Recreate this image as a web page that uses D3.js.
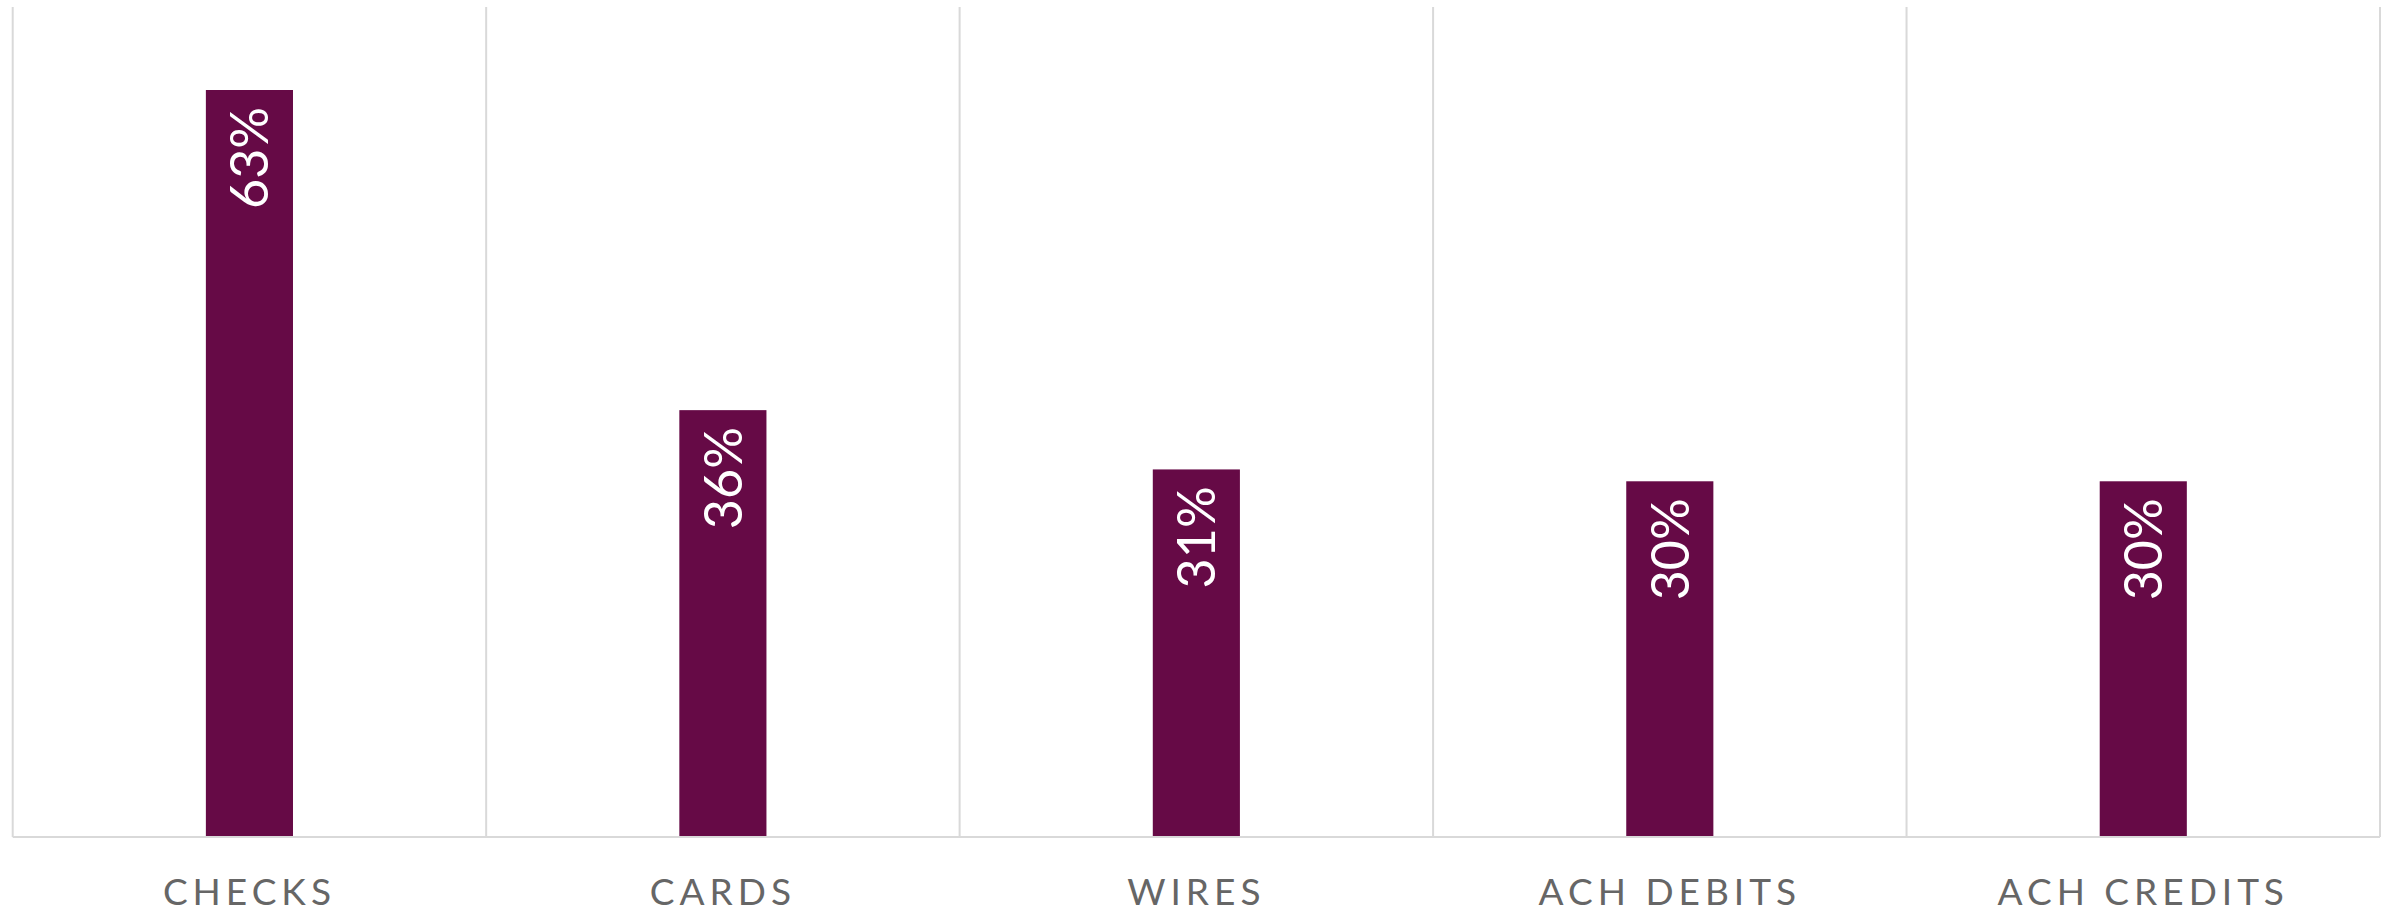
<!DOCTYPE html>
<html>
<head>
<meta charset="utf-8">
<script src="https://cdn.jsdelivr.net/npm/d3@7"></script>
<style>
  html, body { margin: 0; padding: 0; background: #fff; }
  svg { display: block; }
</style>
</head>
<body>
<svg id="chart"></svg>
<script>
// data
const categories = ["CHECKS", "CARDS", "WIRES", "ACH DEBITS", "ACH CREDITS"];
const values = [0.63, 0.36, 0.31, 0.30, 0.30];
const yMax = 0.70;

const width = 2394;
const height = 913;
const margin = { top: 7, right: 14, bottom: 76, left: 12.7 };

const svg = d3.select("#chart")
    .attr("width", width)
    .attr("height", height)
    .attr("viewBox", [0, 0, width, height]);

const x = d3.scaleBand()
    .domain(categories)
    .range([margin.left, width - margin.right])
    .padding(0);

const y = d3.scaleLinear()
    .domain([0, yMax])
    .range([height - margin.bottom, margin.top]);

const barW = x.bandwidth() * 0.184;
const fmt = d3.format(".0%");

// vertical separators between categories
const edges = categories.map(c => x(c)).concat([x.range()[1]]);
svg.append("g")
    .selectAll("line")
    .data(edges)
    .join("line")
    .attr("x1", d => d).attr("x2", d => d)
    .attr("y1", y(yMax)).attr("y2", y(0))
    .attr("stroke", "#d9d9d9")
    .attr("stroke-width", 2);

// bars
svg.append("g")
    .selectAll("rect")
    .data(values)
    .join("rect")
    .attr("x", (d, i) => x(categories[i]) + x.bandwidth() / 2 - barW / 2)
    .attr("width", barW)
    .attr("y", d => y(d))
    .attr("height", d => y(0) - y(d))
    .attr("fill", "#660a46");

// baseline
svg.append("line")
    .attr("x1", x.range()[0]).attr("x2", x.range()[1])
    .attr("y1", y(0)).attr("y2", y(0))
    .attr("stroke", "#d9d9d9")
    .attr("stroke-width", 2);

// value labels, rotated inside the bars
svg.append("g")
    .selectAll("text")
    .data(values)
    .join("text")
    .attr("transform", (d, i) => `translate(${x(categories[i]) + x.bandwidth() / 2},${y(d) + 17}) rotate(-90)`)
    .attr("text-anchor", "end")
    .attr("dy", "0.36em")
    .attr("fill", "#fff")
    .style("font-family", "Lato, sans-serif")
    .style("font-size", "52px")
    .text(d => fmt(d));

// category labels
svg.append("g")
    .selectAll("text")
    .data(categories)
    .join("text")
    .attr("x", d => x(d) + x.bandwidth() / 2)
    .attr("y", 905)
    .attr("text-anchor", "middle")
    .attr("fill", "#666")
    .style("font-family", "Lato, sans-serif")
    .style("font-size", "37px")
    .style("letter-spacing", "5px")
    .text(d => d);
</script>
</body>
</html>
